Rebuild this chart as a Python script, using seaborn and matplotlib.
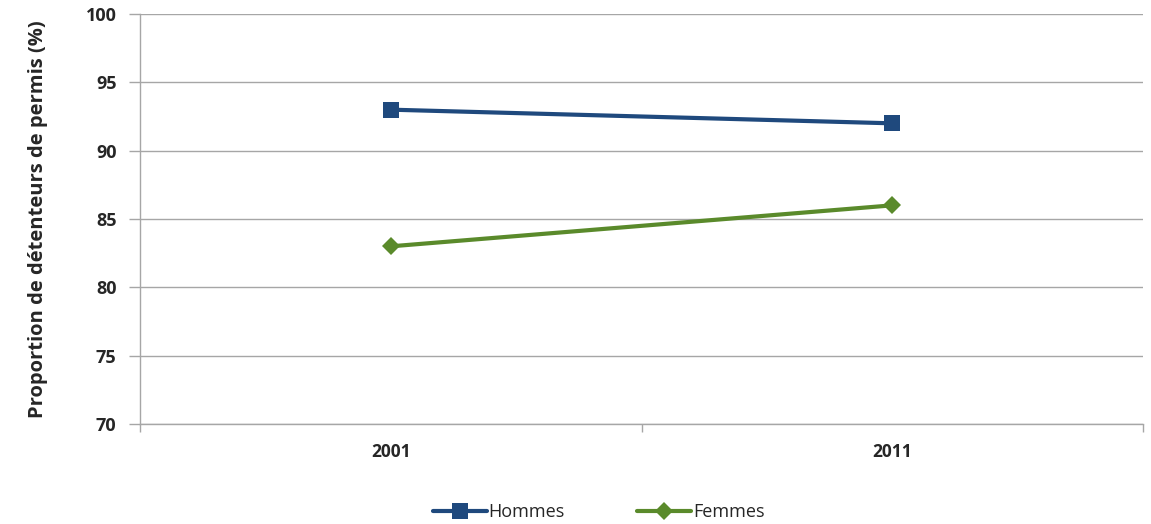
import numpy as np
import pandas as pd
import seaborn as sns
import matplotlib.pyplot as plt

years = ["2001", "2011"]
hommes = [93, 92]
femmes = [83, 86]
series_names = ["Hommes", "Femmes"]
y_ticks = [70, 75, 80, 85, 90, 95, 100]

data = pd.DataFrame({
    "annee": years * 2,
    "valeur": hommes + femmes,
    "sexe": [series_names[0]] * len(years) + [series_names[1]] * len(years),
})

sns.set_style("white")
plt.rcParams["font.family"] = ["Open Sans", "DejaVu Sans"]

fig = plt.figure(figsize=(11.51, 5.24), dpi=100)
ax = fig.add_axes([140 / 1151, 1 - 424 / 524, (1143 - 140) / 1151, (424 - 14) / 524])

palette = {"Hommes": "#1F497D", "Femmes": "#5A8A2B"}
sns.lineplot(data=data, x="annee", y="valeur", hue="sexe", style="sexe",
             markers={"Hommes": "s", "Femmes": "D"}, dashes=False,
             palette=palette, linewidth=3, markersize=11, markeredgewidth=0,
             ax=ax, sort=False)

# smaller diamond like the reference
for line in ax.lines:
    if line.get_marker() == "D":
        line.set_markersize(9)

ax.set_xlim(-0.5, 1.5)
ax.set_ylim(70, 100)
ax.set_yticks(y_ticks)
ax.set_xticks([0, 1])
ax.set_xticklabels(years, fontsize=12.5, fontweight="bold")
ax.set_yticklabels([str(t) for t in y_ticks], fontsize=13, fontweight="bold")
ax.yaxis.grid(True, color="#A6A6A6", linewidth=1)
ax.set_axisbelow(True)

for s in ["top", "right"]:
    ax.spines[s].set_visible(False)
for s in ["left", "bottom"]:
    ax.spines[s].set_color("#A6A6A6")
    ax.spines[s].set_linewidth(1)

ax.tick_params(axis="y", length=8, color="#A6A6A6", width=1, pad=9, left=True)
ax.tick_params(axis="x", length=0, pad=14)
# category boundary ticks (Excel style)
ax.set_xticks([-0.5, 0.5, 1.5], minor=True)
ax.tick_params(axis="x", which="minor", length=6, color="#A6A6A6", width=1, bottom=True)

ax.set_xlabel("")
ax.set_ylabel("Proportion de détenteurs de permis (%)", fontsize=14.5, fontweight="bold", labelpad=27)

handles, labels = ax.get_legend_handles_labels()
ax.legend_.remove()
fig.legend(handles, labels, loc="center", bbox_to_anchor=(0.52, 0.022), ncol=2,
           frameon=False, fontsize=13, handlelength=3, handletextpad=0.1,
           columnspacing=4)

fig.savefig("out.png", dpi=100)
